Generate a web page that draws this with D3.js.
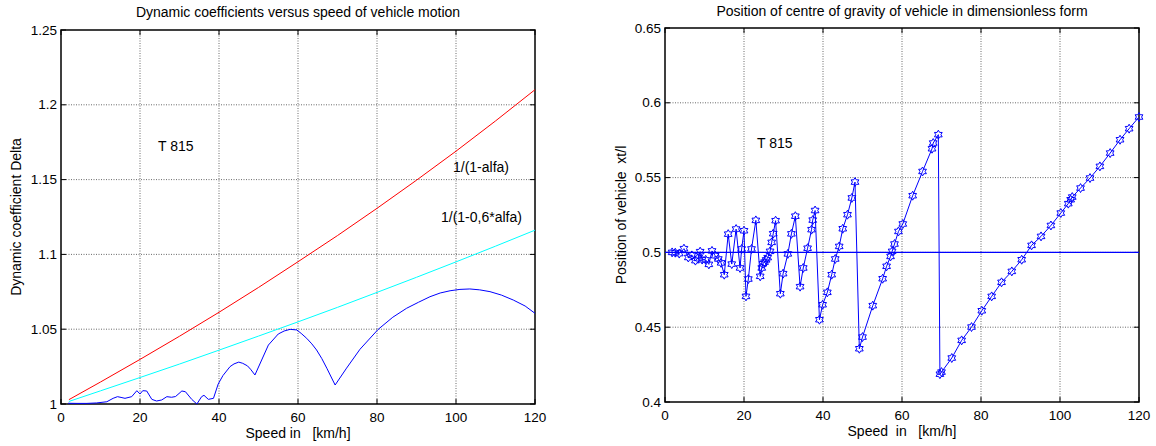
<!DOCTYPE html>
<html>
<head>
<meta charset="utf-8">
<script src="https://cdn.jsdelivr.net/npm/d3@7"></script>
<style>
  body { margin: 0; background: #fff; }
  text { font-family: "Liberation Sans", Arial, sans-serif; fill: #000; }
</style>
</head>
<body>
<div id="container"></div>
<script>
/* speeds and values */
const speedLines = [2, 10, 20, 30, 40, 50, 60, 70, 80, 90, 100, 110, 120]
const deltaFull = [1.0029, 1.0147, 1.0298, 1.0453, 1.0613, 1.0779, 1.0951, 1.1126, 1.1308, 1.1496, 1.1690, 1.1892, 1.2101]
const deltaReduced = [1.0017, 1.0088, 1.0177, 1.0267, 1.0360, 1.0454, 1.0549, 1.0646, 1.0746, 1.0847, 1.0950, 1.1055, 1.1162]

const speedDyn = [1.8, 4, 6.5, 9, 11.6, 13.2, 14.3, 15.2, 16.2, 17.9, 19.2, 20.0, 20.7, 21.7, 23.0, 24.2, 25.5, 26.8, 28.0, 29.0,
  30.6, 31.5, 33.1, 34.4, 35.6, 36.2, 37.3, 38.6, 39.8, 41, 42.8, 43.8, 45.0, 46, 47.2, 48, 49.1, 52.5, 55.0, 56.5,
  58.0, 59.7, 60.8, 62.2, 63.5, 64.7, 66, 67.3, 69.4, 72.3, 75.7, 80.3, 84, 87.5, 90.5, 93.4, 96, 98.5, 101, 103.5,
  106, 108.6, 111.5, 114.5, 117.5, 120]
const deltaDyn = [1.0005, 1.0004, 1.0004, 1.0007, 1.0015, 1.0038, 1.0049, 1.0044, 1.0038, 1.0049, 1.0089, 1.0067, 1.0089, 1.0087, 1.0031, 1.0020, 1.0027, 1.0049, 1.0045, 1.0050,
  1.0087, 1.0082, 1.0031, 1.0000, 1.0049, 1.0058, 1.0031, 1.0038, 1.0134, 1.0190, 1.0250, 1.0268, 1.0280, 1.0272, 1.0255, 1.0232, 1.0194, 1.0394, 1.0468, 1.0488,
  1.0499, 1.0495, 1.0472, 1.0439, 1.0402, 1.0361, 1.0305, 1.0239, 1.0127, 1.0240, 1.0366, 1.0499, 1.0580, 1.0640, 1.0680, 1.0717, 1.0742, 1.0757, 1.0766, 1.0769,
  1.0763, 1.0751, 1.0728, 1.0695, 1.0655, 1.0606]

/* speeds and values */
const speedPos = [1.8, 2.6, 3.6, 4.8, 5.9, 6.8, 7.7, 8.3, 8.9, 9.4, 10.3, 11.1, 11.9, 12.7, 13.5, 14.2, 15.0, 16.0, 16.9, 18.0,
  19.0, 19.4, 20.0, 20.5, 21.1, 21.9, 23.0, 24.1, 24.5, 24.8, 25.2, 25.6, 26.0, 26.6, 27.0, 27.4, 28.0, 29.2, 29.9, 31.1,
  32.0, 33.0, 34.2, 35.0, 36.1, 37.1, 37.4, 38.0, 39.1, 39.9, 41.1, 42.2, 43.1, 44.1, 45.0, 46.2, 47.3, 48.1, 49.2, 50.0,
  52.6, 55.1, 56.1, 57.1, 57.5, 58.1, 59.1, 60.2, 62.7, 65.2, 67.6, 67.9, 69.2, 69.6, 70.0, 72.6, 75.1, 77.6, 80.2, 82.7,
  85.2, 87.8, 90.3, 92.8, 95.2, 97.7, 100.2, 102.1, 102.7, 103.1, 105.2, 107.6, 110.1, 112.7, 115.2, 117.5, 120.0]
const posXt = [0.5000, 0.4998, 0.4992, 0.5025, 0.4966, 0.4980, 0.4945, 0.4960, 0.5005, 0.4952, 0.4950, 0.4920, 0.5010, 0.4978, 0.4956, 0.4930, 0.4851, 0.5122, 0.4922, 0.5156,
  0.4896, 0.5023, 0.5145, 0.4706, 0.4822, 0.5023, 0.5214, 0.4840, 0.4896, 0.4924, 0.4935, 0.4950, 0.4965, 0.5007, 0.5067, 0.5125, 0.5212, 0.4724, 0.4858, 0.4990,
  0.5124, 0.5242, 0.4771, 0.4896, 0.5028, 0.5152, 0.5216, 0.5280, 0.4550, 0.4650, 0.4733, 0.4851, 0.4956, 0.5040, 0.5158, 0.5252, 0.5364, 0.5470, 0.4356, 0.4434,
  0.4644, 0.4824, 0.4907, 0.4973, 0.5007, 0.5056, 0.5140, 0.5190, 0.5379, 0.5541, 0.5693, 0.5731, 0.5787, 0.4186, 0.4200, 0.4294, 0.4412, 0.4501, 0.4610, 0.4706,
  0.4800, 0.4873, 0.4951, 0.5047, 0.5107, 0.5180, 0.5263, 0.5326, 0.5352, 0.5370, 0.5430, 0.5497, 0.5575, 0.5664, 0.5753, 0.5827, 0.5905]
const posRef = 0.5

/* ticks */
const xTicks = [0, 20, 40, 60, 80, 100, 120]
const yTicksLeft = [1, 1.05, 1.1, 1.15, 1.2, 1.25]
const yTicksRight = [0.4, 0.45, 0.5, 0.55, 0.6, 0.65]

const width = 1156
const height = 446

const svg = d3.create("svg")
  .attr("width", width)
  .attr("height", height)
  .attr("viewBox", [0, 0, width, height])

/* six-pointed star, like the matlab 'h' marker */
const hexagram = {
  draw(context, size) {
    const r = Math.sqrt(size / 2.6)
    const ri = r / Math.sqrt(3)
    for (let i = 0; i < 12; i++) {
      const a = -Math.PI / 2 + i * Math.PI / 6
      const rr = i % 2 === 0 ? r : ri
      const px = rr * Math.cos(a), py = rr * Math.sin(a)
      if (i === 0) context.moveTo(px, py)
      else context.lineTo(px, py)
    }
    context.closePath()
  }
}

/* draws the box, grid, ticks and labels of one panel */
const drawFrame = (g, x, y, yTicks, fmt, title, xLabel, yLabel, titleGap, yLabelGap) => {
  const [x0, x1] = x.range()
  const [y0, y1] = y.range()

  const grid = g.append("g")
    .attr("stroke", "#444")
    .attr("stroke-width", 0.8)
    .attr("stroke-dasharray", "1,1.5")
  grid.selectAll(".gx")
    .data(xTicks.slice(1, -1))
    .join("line")
      .attr("x1", d => x(d)).attr("x2", d => x(d))
      .attr("y1", y0).attr("y2", y1)
  grid.selectAll(".gy")
    .data(yTicks.slice(1, -1))
    .join("line")
      .attr("y1", d => y(d)).attr("y2", d => y(d))
      .attr("x1", x0).attr("x2", x1)

  // inward ticks, all four sides
  const t = 5
  const ticks = g.append("g").attr("stroke", "#000").attr("stroke-width", 1)
  xTicks.forEach(d => {
    ticks.append("line").attr("x1", x(d)).attr("x2", x(d)).attr("y1", y0).attr("y2", y0 - t)
    ticks.append("line").attr("x1", x(d)).attr("x2", x(d)).attr("y1", y1).attr("y2", y1 + t)
  })
  yTicks.forEach(d => {
    ticks.append("line").attr("y1", y(d)).attr("y2", y(d)).attr("x1", x0).attr("x2", x0 + t)
    ticks.append("line").attr("y1", y(d)).attr("y2", y(d)).attr("x1", x1).attr("x2", x1 - t)
  })

  g.append("rect")
    .attr("x", x0).attr("y", y1)
    .attr("width", x1 - x0).attr("height", y0 - y1)
    .attr("fill", "none")
    .attr("stroke", "#000")
    .attr("stroke-width", 1.5)

  g.append("g")
    .attr("font-size", 13.5)
    .attr("text-anchor", "middle")
    .selectAll("text")
    .data(xTicks)
    .join("text")
      .attr("x", d => x(d))
      .attr("y", y0 + 18)
      .text(d => d)

  g.append("g")
    .attr("font-size", 13.5)
    .attr("text-anchor", "end")
    .selectAll("text")
    .data(yTicks)
    .join("text")
      .attr("x", x0 - 4)
      .attr("y", d => y(d) + 4.5)
      .text(fmt)

  g.append("text")
    .attr("x", (x0 + x1) / 2)
    .attr("y", y1 - titleGap)
    .attr("text-anchor", "middle")
    .attr("font-size", 14)
    .text(title)

  g.append("text")
    .attr("x", (x0 + x1) / 2)
    .attr("y", y0 + 34)
    .attr("text-anchor", "middle")
    .attr("font-size", 14)
    .style("white-space", "pre")
    .text(xLabel)

  g.append("text")
    .attr("transform", `translate(${x0 - yLabelGap},${(y0 + y1) / 2}) rotate(-90)`)
    .attr("text-anchor", "middle")
    .attr("font-size", 14)
    .style("white-space", "pre")
    .text(yLabel)
}

// left panel: dynamic coefficients
const xL = d3.scaleLinear([0, 120], [61, 535])
const yL = d3.scaleLinear([1, 1.25], [404, 30])
const left = svg.append("g")

drawFrame(left, xL, yL, yTicksLeft, d => d === 1 ? "1" : String(d),
  "Dynamic coefficients versus speed of vehicle motion",
  "Speed in   [km/h]", "Dynamic coefficient Delta", 13, 40)

const lineL = (xs, ys) => d3.line()
  .x((d, i) => xL(xs[i]))
  .y(d => yL(d))(ys)

left.append("path").attr("d", lineL(speedLines, deltaFull))
  .attr("fill", "none").attr("stroke", "#ff0000").attr("stroke-width", 1)
left.append("path").attr("d", lineL(speedLines, deltaReduced))
  .attr("fill", "none").attr("stroke", "#00ffff").attr("stroke-width", 1)
left.append("path").attr("d", lineL(speedDyn, deltaDyn))
  .attr("fill", "none").attr("stroke", "#0000ff").attr("stroke-width", 1)

left.append("text").attr("x", 158).attr("y", 151).attr("font-size", 14).text("T 815")
left.append("text").attr("x", 453).attr("y", 172).attr("font-size", 14).text("1/(1-alfa)")
left.append("text").attr("x", 441).attr("y", 222).attr("font-size", 14).text("1/(1-0,6*alfa)")

// right panel: centre of gravity position
const xR = d3.scaleLinear([0, 120], [665, 1139])
const yR = d3.scaleLinear([0.4, 0.65], [402, 28])
const right = svg.append("g")

drawFrame(right, xR, yR, yTicksRight, d => String(d),
  "Position of centre of gravity of vehicle in dimensionless form",
  "Speed  in   [km/h]", "Position of vehicle  xt/l", 12, 39)

right.append("line")
  .attr("x1", xR(0)).attr("x2", xR(120))
  .attr("y1", yR(posRef)).attr("y2", yR(posRef))
  .attr("stroke", "#0000ff").attr("stroke-width", 1.3)

const posLine = d3.line()
  .x((d, i) => xR(speedPos[i]))
  .y(d => yR(d))

right.append("path").attr("d", posLine(posXt))
  .attr("fill", "none").attr("stroke", "#0000ff").attr("stroke-width", 1)

right.append("g")
  .selectAll("path")
  .data(posXt)
  .join("path")
    .attr("transform", (d, i) => `translate(${xR(speedPos[i])},${yR(d)})`)
    .attr("d", d3.symbol().type(hexagram).size(52))
    .attr("fill", "none")
    .attr("stroke", "#0000ff")
    .attr("stroke-width", 1)

right.append("text").attr("x", 757).attr("y", 148).attr("font-size", 14).text("T 815")

document.getElementById("container").append(svg.node())
</script>
</body>
</html>
